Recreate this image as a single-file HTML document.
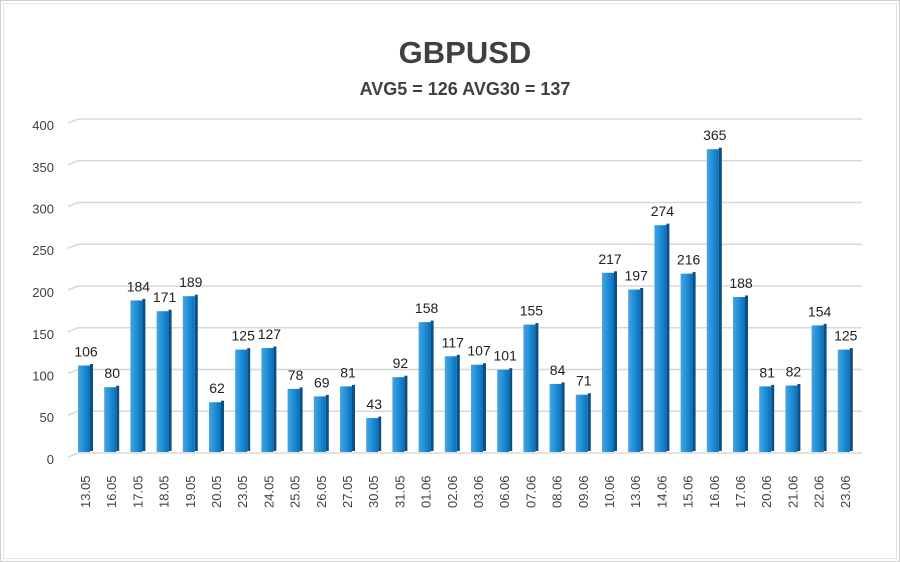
<!DOCTYPE html>
<html><head><meta charset="utf-8"><style>
html,body{margin:0;padding:0;background:#fff;}
body{width:900px;height:562px;overflow:hidden;}
svg{display:block;font-family:"Liberation Sans",sans-serif;}
.b{fill:url(#fr);}
.s{fill:#0a4f85;}
.v{font-size:14px;fill:#222;text-anchor:middle;}
.x{font-size:13px;fill:#404040;}
.y{font-size:13px;fill:#404040;text-anchor:end;}
.g{stroke:#d8d8d8;stroke-width:1.5;fill:none;}
</style></head><body>
<svg width="900" height="562" viewBox="0 0 900 562" xmlns="http://www.w3.org/2000/svg">
<defs>
<linearGradient id="fr" x1="0" x2="1" y1="0" y2="0">
<stop offset="0" stop-color="#4aa3e0"/><stop offset="0.5" stop-color="#1e8fd8"/><stop offset="1" stop-color="#0a6fb8"/>
</linearGradient>
</defs>
<rect x="0.5" y="0.5" width="899" height="561" fill="#fff" stroke="#d0d0d0"/>
<rect x="3.5" y="3.5" width="893" height="555" fill="none" stroke="#e4e4e4"/>
<text x="465" y="63" text-anchor="middle" font-size="31" font-weight="bold" fill="#404040">GBPUSD</text>
<text x="465" y="95" text-anchor="middle" font-size="18" font-weight="bold" fill="#404040">AVG5 = 126 AVG30 = 137</text>

<path class="g" d="M68 457 L78 453 H862 M68 415.25 L78 411.25 H862 M68 373.5 L78 369.5 H862 M68 331.75 L78 327.75 H862 M68 290 L78 286 H862 M68 248.25 L78 244.25 H862 M68 206.5 L78 202.5 H862 M68 164.75 L78 160.75 H862 M68 123 L78 119 H862"/>
<text class="y" x="54" y="464">0</text>
<text class="y" x="54" y="422">50</text>
<text class="y" x="54" y="380.5">100</text>
<text class="y" x="54" y="339">150</text>
<text class="y" x="54" y="297">200</text>
<text class="y" x="54" y="255">250</text>
<text class="y" x="54" y="213.5">300</text>
<text class="y" x="54" y="172">350</text>
<text class="y" x="54" y="130">400</text>

<g>
<rect class="b" x="78" y="365.5" width="12" height="86.5"/><rect class="s" x="90" y="364" width="3" height="87"/>
<rect class="b" x="104.2" y="387.2" width="12" height="64.8"/><rect class="s" x="116.2" y="385.7" width="3" height="65.3"/>
<rect class="b" x="130.4" y="300.4" width="12" height="151.6"/><rect class="s" x="142.4" y="298.9" width="3" height="152.1"/>
<rect class="b" x="156.6" y="311.2" width="12" height="140.8"/><rect class="s" x="168.6" y="309.7" width="3" height="141.3"/>
<rect class="b" x="182.8" y="296.2" width="12" height="155.8"/><rect class="s" x="194.8" y="294.7" width="3" height="156.3"/>
<rect class="b" x="209" y="402.2" width="12" height="49.8"/><rect class="s" x="221" y="400.7" width="3" height="50.3"/>
<rect class="b" x="235.2" y="349.6" width="12" height="102.4"/><rect class="s" x="247.2" y="348.1" width="3" height="102.9"/>
<rect class="b" x="261.4" y="348" width="12" height="104"/><rect class="s" x="273.4" y="346.5" width="3" height="104.5"/>
<rect class="b" x="287.6" y="388.9" width="12" height="63.1"/><rect class="s" x="299.6" y="387.4" width="3" height="63.6"/>
<rect class="b" x="313.8" y="396.4" width="12" height="55.6"/><rect class="s" x="325.8" y="394.9" width="3" height="56.1"/>
<rect class="b" x="340" y="386.4" width="12" height="65.6"/><rect class="s" x="352" y="384.9" width="3" height="66.1"/>
<rect class="b" x="366.2" y="418.1" width="12" height="33.9"/><rect class="s" x="378.2" y="416.6" width="3" height="34.4"/>
<rect class="b" x="392.4" y="377.2" width="12" height="74.8"/><rect class="s" x="404.4" y="375.7" width="3" height="75.3"/>
<rect class="b" x="418.6" y="322.1" width="12" height="129.9"/><rect class="s" x="430.6" y="320.6" width="3" height="130.4"/>
<rect class="b" x="444.8" y="356.3" width="12" height="95.7"/><rect class="s" x="456.8" y="354.8" width="3" height="96.2"/>
<rect class="b" x="471" y="364.7" width="12" height="87.3"/><rect class="s" x="483" y="363.2" width="3" height="87.8"/>
<rect class="b" x="497.2" y="369.7" width="12" height="82.3"/><rect class="s" x="509.2" y="368.2" width="3" height="82.8"/>
<rect class="b" x="523.4" y="324.6" width="12" height="127.4"/><rect class="s" x="535.4" y="323.1" width="3" height="127.9"/>
<rect class="b" x="549.6" y="383.9" width="12" height="68.1"/><rect class="s" x="561.6" y="382.4" width="3" height="68.6"/>
<rect class="b" x="575.8" y="394.7" width="12" height="57.3"/><rect class="s" x="587.8" y="393.2" width="3" height="57.8"/>
<rect class="b" x="602" y="272.8" width="12" height="179.2"/><rect class="s" x="614" y="271.3" width="3" height="179.7"/>
<rect class="b" x="628.2" y="289.5" width="12" height="162.5"/><rect class="s" x="640.2" y="288" width="3" height="163"/>
<rect class="b" x="654.4" y="225.2" width="12" height="226.8"/><rect class="s" x="666.4" y="223.7" width="3" height="227.3"/>
<rect class="b" x="680.6" y="273.6" width="12" height="178.4"/><rect class="s" x="692.6" y="272.1" width="3" height="178.9"/>
<rect class="b" x="706.8" y="149.2" width="12" height="302.8"/><rect class="s" x="718.8" y="147.7" width="3" height="303.3"/>
<rect class="b" x="733" y="297" width="12" height="155"/><rect class="s" x="745" y="295.5" width="3" height="155.5"/>
<rect class="b" x="759.2" y="386.4" width="12" height="65.6"/><rect class="s" x="771.2" y="384.9" width="3" height="66.1"/>
<rect class="b" x="785.4" y="385.5" width="12" height="66.5"/><rect class="s" x="797.4" y="384" width="3" height="67"/>
<rect class="b" x="811.6" y="325.4" width="12" height="126.6"/><rect class="s" x="823.6" y="323.9" width="3" height="127.1"/>
<rect class="b" x="837.8" y="349.6" width="12" height="102.4"/><rect class="s" x="849.8" y="348.1" width="3" height="102.9"/>
</g>

<g>
<text class="v" x="86" y="356.5">106</text>
<text class="v" x="112.2" y="378.2">80</text>
<text class="v" x="138.4" y="291.4">184</text>
<text class="v" x="164.6" y="302.2">171</text>
<text class="v" x="190.8" y="287.2">189</text>
<text class="v" x="217" y="393.2">62</text>
<text class="v" x="243.2" y="340.6">125</text>
<text class="v" x="269.4" y="339">127</text>
<text class="v" x="295.6" y="379.9">78</text>
<text class="v" x="321.8" y="387.4">69</text>
<text class="v" x="348" y="377.4">81</text>
<text class="v" x="374.2" y="409.1">43</text>
<text class="v" x="400.4" y="368.2">92</text>
<text class="v" x="426.6" y="313.1">158</text>
<text class="v" x="452.8" y="347.3">117</text>
<text class="v" x="479" y="355.7">107</text>
<text class="v" x="505.2" y="360.7">101</text>
<text class="v" x="531.4" y="315.6">155</text>
<text class="v" x="557.6" y="374.9">84</text>
<text class="v" x="583.8" y="385.7">71</text>
<text class="v" x="610" y="263.8">217</text>
<text class="v" x="636.2" y="280.5">197</text>
<text class="v" x="662.4" y="216.2">274</text>
<text class="v" x="688.6" y="264.6">216</text>
<text class="v" x="714.8" y="140.2">365</text>
<text class="v" x="741" y="288">188</text>
<text class="v" x="767.2" y="377.4">81</text>
<text class="v" x="793.4" y="376.5">82</text>
<text class="v" x="819.6" y="316.4">154</text>
<text class="v" x="845.8" y="340.6">125</text>
</g>

<g>
<text class="x" transform="translate(90,508) rotate(-90)">13.05</text>
<text class="x" transform="translate(116.2,508) rotate(-90)">16.05</text>
<text class="x" transform="translate(142.4,508) rotate(-90)">17.05</text>
<text class="x" transform="translate(168.6,508) rotate(-90)">18.05</text>
<text class="x" transform="translate(194.8,508) rotate(-90)">19.05</text>
<text class="x" transform="translate(221,508) rotate(-90)">20.05</text>
<text class="x" transform="translate(247.2,508) rotate(-90)">23.05</text>
<text class="x" transform="translate(273.4,508) rotate(-90)">24.05</text>
<text class="x" transform="translate(299.6,508) rotate(-90)">25.05</text>
<text class="x" transform="translate(325.8,508) rotate(-90)">26.05</text>
<text class="x" transform="translate(352,508) rotate(-90)">27.05</text>
<text class="x" transform="translate(378.2,508) rotate(-90)">30.05</text>
<text class="x" transform="translate(404.4,508) rotate(-90)">31.05</text>
<text class="x" transform="translate(430.6,508) rotate(-90)">01.06</text>
<text class="x" transform="translate(456.8,508) rotate(-90)">02.06</text>
<text class="x" transform="translate(483,508) rotate(-90)">03.06</text>
<text class="x" transform="translate(509.2,508) rotate(-90)">06.06</text>
<text class="x" transform="translate(535.4,508) rotate(-90)">07.06</text>
<text class="x" transform="translate(561.6,508) rotate(-90)">08.06</text>
<text class="x" transform="translate(587.8,508) rotate(-90)">09.06</text>
<text class="x" transform="translate(614,508) rotate(-90)">10.06</text>
<text class="x" transform="translate(640.2,508) rotate(-90)">13.06</text>
<text class="x" transform="translate(666.4,508) rotate(-90)">14.06</text>
<text class="x" transform="translate(692.6,508) rotate(-90)">15.06</text>
<text class="x" transform="translate(718.8,508) rotate(-90)">16.06</text>
<text class="x" transform="translate(745,508) rotate(-90)">17.06</text>
<text class="x" transform="translate(771.2,508) rotate(-90)">20.06</text>
<text class="x" transform="translate(797.4,508) rotate(-90)">21.06</text>
<text class="x" transform="translate(823.6,508) rotate(-90)">22.06</text>
<text class="x" transform="translate(849.8,508) rotate(-90)">23.06</text>
</g>
</svg>
</body></html>
